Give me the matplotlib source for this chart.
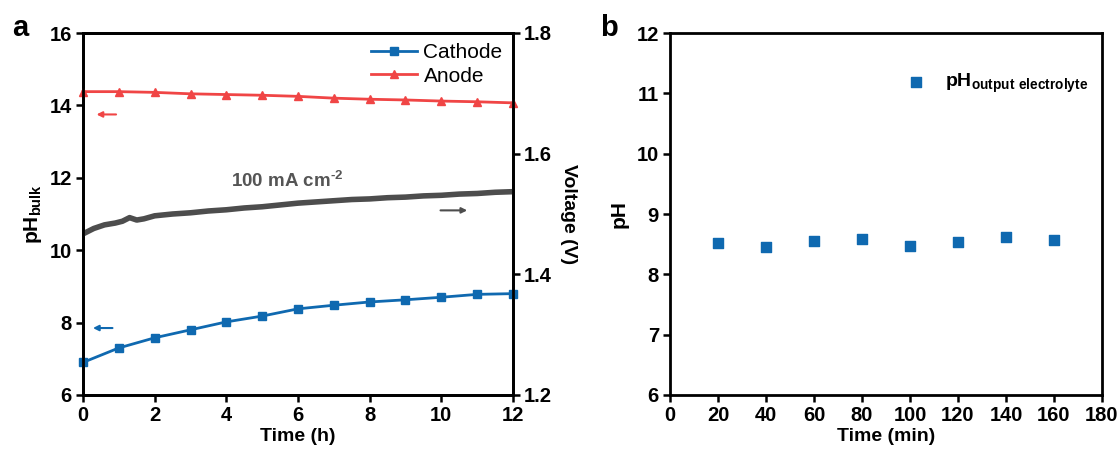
import matplotlib
matplotlib.use('Agg')
import matplotlib.pyplot as plt

plt.rcParams['font.family'] = ['Liberation Sans', 'DejaVu Sans']
plt.rcParams['font.weight'] = 'bold'
plt.rcParams['mathtext.fontset'] = 'custom'
plt.rcParams['mathtext.rm'] = 'Liberation Sans:bold'
plt.rcParams['mathtext.bf'] = 'Liberation Sans:bold'
plt.rcParams['mathtext.default'] = 'bf'

# ---- panel a data -------------------------------------------------------- #
hours = [0, 1, 2, 3, 4, 5, 6, 7, 8, 9, 10, 11, 12]
ph_cathode = [6.9, 7.3, 7.58, 7.8, 8.02, 8.18, 8.38, 8.48, 8.57, 8.63, 8.7, 8.78, 8.8]
ph_anode = [14.38, 14.38, 14.36, 14.32, 14.3, 14.28, 14.25, 14.2, 14.17, 14.15, 14.12, 14.1, 14.07]

volt_t = [0, 0.3, 0.6, 0.9, 1.1, 1.3, 1.5, 1.7, 2.0, 2.5, 3.0, 3.5, 4.0, 4.5,
          5.0, 5.5, 6.0, 6.5, 7.0, 7.5, 8.0, 8.5, 9.0, 9.5, 10.0, 10.5, 11.0, 11.5, 12.0]
voltage = [1.467, 1.476, 1.482, 1.485, 1.488, 1.494, 1.490, 1.492, 1.497, 1.500, 1.502,
           1.505, 1.507, 1.510, 1.512, 1.515, 1.518, 1.520, 1.522, 1.524, 1.525, 1.527,
           1.528, 1.530, 1.531, 1.533, 1.534, 1.536, 1.537]

# ---- panel b data -------------------------------------------------------- #
minutes = [20, 40, 60, 80, 100, 120, 140, 160]
ph_output = [8.52, 8.45, 8.55, 8.58, 8.47, 8.53, 8.62, 8.57]

BLUE = '#0f69b0'
RED = '#f04545'
GRAY = '#4d4d4d'

fig = plt.figure(figsize=(11.2, 4.55), dpi=100)
ax = fig.add_axes([83 / 1120, 60 / 455, 430 / 1120, 362 / 455])
axr = ax.twinx()
bx = fig.add_axes([670 / 1120, 60 / 455, 432 / 1120, 362 / 455])


def style(a):
    for s in a.spines.values():
        s.set_linewidth(2)
    a.tick_params(direction='out', length=5, width=1.8, labelsize=14.5, pad=3)
    for lab in a.get_xticklabels() + a.get_yticklabels():
        lab.set_fontweight('bold')


ax.plot(hours, ph_cathode, color=BLUE, lw=2, marker='s', ms=5.5, label='Cathode', clip_on=False, zorder=3)
ax.plot(hours, ph_anode, color=RED, lw=2, marker='^', ms=6, label='Anode', clip_on=False, zorder=3)
axr.plot(volt_t, voltage, color=GRAY, lw=4, solid_joinstyle='round')

ax.set_xlim(0, 12)
ax.set_ylim(6, 16)
ax.set_xticks(range(0, 13, 2))
ax.set_yticks(range(6, 17, 2))
axr.set_ylim(1.2, 1.8)
axr.set_yticks([1.2, 1.4, 1.6, 1.8])
axr.set_yticklabels(['1.2', '1.4', '1.6', '1.8'])
ax.set_xlabel('Time (h)', fontsize=14, fontweight='bold', labelpad=2)
ax.set_ylabel('pH$_{bulk}$', fontsize=15, fontweight='bold', labelpad=4)
axr.set_ylabel('Voltage (V)', fontsize=14, fontweight='bold', rotation=270, labelpad=18)
style(ax)
style(axr)

leg = ax.legend(loc='upper right', frameon=False, fontsize=15, handlelength=2.2,
                handletextpad=0.3, borderaxespad=0.1, labelspacing=0.2)
for t in leg.get_texts():
    t.set_fontweight('normal')

ax.annotate('', xy=(0.3, 13.75), xytext=(1.0, 13.75),
            arrowprops=dict(arrowstyle='-|>', color=RED, lw=1.5, mutation_scale=8))
ax.annotate('', xy=(0.2, 7.85), xytext=(0.9, 7.85),
            arrowprops=dict(arrowstyle='-|>', color=BLUE, lw=1.5, mutation_scale=8))
ax.annotate('', xy=(10.8, 11.1), xytext=(9.9, 11.1),
            arrowprops=dict(arrowstyle='-|>', color=GRAY, lw=1.5, mutation_scale=8))
ax.text(5.7, 11.9, '100 mA cm$^{\\text{-}2}$', color='#555555', fontsize=13.5,
        fontweight='bold', ha='center', va='center')

bx.scatter(minutes, ph_output, marker='s', s=45, color=BLUE, zorder=3,
           label='pH$_{output\\ electrolyte}$')
bx.set_xlim(0, 180)
bx.set_ylim(6, 12)
bx.set_xticks(range(0, 181, 20))
bx.set_yticks(range(6, 13))
bx.set_xlabel('Time (min)', fontsize=14, fontweight='bold', labelpad=2)
bx.set_ylabel('pH', fontsize=15, fontweight='bold', labelpad=6)
style(bx)
lb = bx.legend(loc='upper right', frameon=False, fontsize=14, handletextpad=0.5,
               borderaxespad=0.3, bbox_to_anchor=(1.0, 0.93))

fig.text(12 / 1120, 1 - 28 / 455, 'a', fontsize=21, fontweight='bold', va='center')
fig.text(600 / 1120, 1 - 28 / 455, 'b', fontsize=21, fontweight='bold', va='center')

fig.savefig('out.png', dpi=100)
